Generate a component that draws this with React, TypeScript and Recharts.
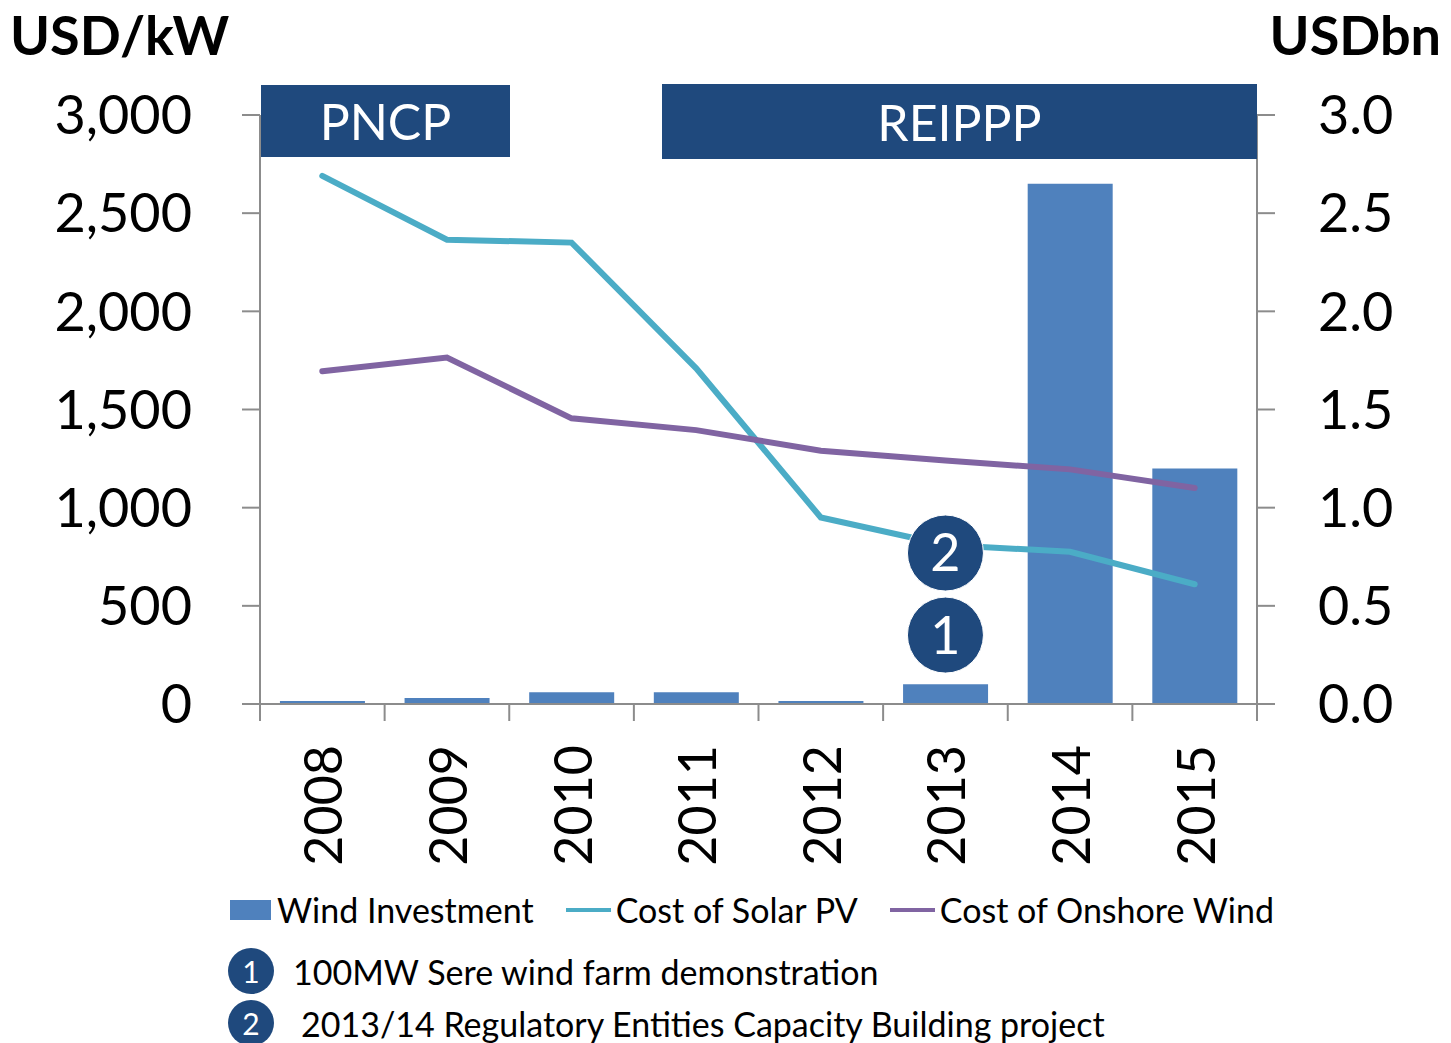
import React from "react";
import {
  ComposedChart,
  Bar,
  Line,
  XAxis,
  YAxis,
  ReferenceDot,
} from "recharts";

const YEARS = ["2008", "2009", "2010", "2011", "2012", "2013", "2014", "2015"];
const WIND_INVESTMENT = [0.015, 0.03, 0.06, 0.06, 0.015, 0.1, 2.65, 1.2]; // USDbn
const SOLAR_COST = [2690, 2365, 2350, 1710, 950, 810, 775, 610]; // USD/kW
const WIND_COST = [1695, 1765, 1455, 1395, 1290, 1240, 1195, 1100]; // USD/kW

const LEFT_TICKS = [0, 500, 1000, 1500, 2000, 2500, 3000];
const RIGHT_TICKS = [0, 0.5, 1, 1.5, 2, 2.5, 3];

const NOTES = [
  { id: "1", year: "2013", y: 351, text: "100MW Sere wind farm demonstration" },
  { id: "2", year: "2013", y: 769, text: "2013/14 Regulatory Entities Capacity Building project" },
];

const SERIES = [
  { key: "invest", name: "Wind Investment", color: "#4F81BD", kind: "bar" },
  { key: "solar", name: "Cost of Solar PV", color: "#4BACC6", kind: "line" },
  { key: "wind", name: "Cost of Onshore Wind", color: "#8064A2", kind: "line" },
];

const data = YEARS.map((year, i) => ({
  year,
  invest: WIND_INVESTMENT[i],
  solar: SOLAR_COST[i],
  wind: WIND_COST[i],
}));

const FONT = "Lato, 'Open Sans', sans-serif";
const NAVY = "#1F497D";
const AXIS = "#8C8C8C";
const PLOT_LEFT = 260;
const PLOT_RIGHT = 1257;
const STEP = (PLOT_RIGHT - PLOT_LEFT) / YEARS.length;

function YearTick(props: any) {
  const { x, y, payload, index } = props;
  return (
    <g>
      <line x1={x - STEP / 2} y1={y} x2={x - STEP / 2} y2={y + 17} stroke={AXIS} strokeWidth={2} />
      {index === YEARS.length - 1 && (
        <line x1={x + STEP / 2} y1={y} x2={x + STEP / 2} y2={y + 17} stroke={AXIS} strokeWidth={2} />
      )}
      <text
        x={x}
        y={y + 41}
        transform={`rotate(-90, ${x}, ${y + 41})`}
        textAnchor="end"
        dominantBaseline="central"
        fontSize={52}
        fontFamily={FONT}
        fill="#000"
      >
        {payload.value}
      </text>
    </g>
  );
}

const banner = (left: number, top: number, width: number, height: number): React.CSSProperties => ({
  position: "absolute",
  left,
  top,
  width,
  height,
  background: NAVY,
  color: "#fff",
  fontFamily: FONT,
  fontSize: 50,
  display: "flex",
  alignItems: "center",
  justifyContent: "center",
});

export default function App() {
  return (
    <div style={{ position: "absolute", left: 0, top: 0, width: 1451, height: 1043, background: "#fff", fontFamily: FONT }}>
      <ComposedChart
        width={1451}
        height={1043}
        data={data}
        margin={{ top: 115, right: 0, left: 0, bottom: 169 }}
        barCategoryGap="16%"
      >
        <XAxis
          dataKey="year"
          height={170}
          axisLine={{ stroke: AXIS, strokeWidth: 2 }}
          tickLine={false}
          tickSize={0}
          tickMargin={0}
          interval={0}
          tick={<YearTick />}
        />
        <YAxis
          yAxisId="left"
          width={260}
          domain={[0, 3000]}
          ticks={LEFT_TICKS}
          tickSize={18}
          tickMargin={50}
          axisLine={{ stroke: AXIS, strokeWidth: 2 }}
          tickLine={{ stroke: AXIS, strokeWidth: 2 }}
          tick={{ fontSize: 54, fill: "#000", fontFamily: FONT }}
          tickFormatter={(v: number) => v.toLocaleString("en-US")}
        />
        <YAxis
          yAxisId="right"
          orientation="right"
          width={194}
          domain={[0, 3]}
          ticks={RIGHT_TICKS}
          tickSize={18}
          tickMargin={43}
          axisLine={{ stroke: AXIS, strokeWidth: 2 }}
          tickLine={{ stroke: AXIS, strokeWidth: 2 }}
          tick={{ fontSize: 54, fill: "#000", fontFamily: FONT, textAnchor: "start" }}
          tickFormatter={(v: number) => v.toFixed(1)}
        />
        <Bar yAxisId="right" dataKey="invest" fill={SERIES[0].color} isAnimationActive={false} />
        <Line
          yAxisId="left"
          dataKey="solar"
          type="linear"
          stroke={SERIES[1].color}
          strokeWidth={6}
          strokeLinecap="round"
          dot={false}
          activeDot={false}
          isAnimationActive={false}
        />
        <Line
          yAxisId="left"
          dataKey="wind"
          type="linear"
          stroke={SERIES[2].color}
          strokeWidth={6}
          strokeLinecap="round"
          dot={false}
          activeDot={false}
          isAnimationActive={false}
        />
        {NOTES.map((n) => (
          <ReferenceDot
            key={n.id}
            yAxisId="left"
            x={n.year}
            y={n.y}
            r={38}
            fill={NAVY}
            stroke="#fff"
            strokeWidth={1}
            label={{ value: n.id, position: "center", fill: "#fff", fontSize: 52, fontFamily: FONT }}
          />
        ))}
      </ComposedChart>

      <div style={{ position: "absolute", left: 10, top: 2, fontSize: 54, fontWeight: 700 }}>USD/kW</div>
      <div style={{ position: "absolute", right: 10, top: 2, fontSize: 54, fontWeight: 700 }}>USDbn</div>

      <div style={banner(261, 85, 249, 72)}>PNCP</div>
      <div style={banner(662, 84, 595, 75)}>REIPPP</div>

      <div style={{ position: "absolute", left: 230, top: 889, display: "flex", alignItems: "center", fontSize: 34 }}>
        {SERIES.map((s) => (
          <div key={s.key} style={{ display: "flex", alignItems: "center", marginRight: 32 }}>
            {s.kind === "bar" ? (
              <div style={{ width: 41, height: 20, background: s.color, marginRight: 6 }} />
            ) : (
              <div style={{ width: 45, height: 4, background: s.color, marginRight: 5 }} />
            )}
            <span>{s.name}</span>
          </div>
        ))}
      </div>

      {NOTES.map((n, i) => (
        <div
          key={n.id}
          style={{ position: "absolute", left: 228, top: 948 + i * 52, display: "flex", alignItems: "center", fontSize: 34 }}
        >
          <div
            style={{
              width: 46,
              height: 46,
              borderRadius: "50%",
              background: NAVY,
              color: "#fff",
              display: "flex",
              alignItems: "center",
              justifyContent: "center",
              fontSize: 30,
              marginRight: i === 0 ? 19 : 27,
            }}
          >
            {n.id}
          </div>
          <span>{n.text}</span>
        </div>
      ))}
    </div>
  );
}
